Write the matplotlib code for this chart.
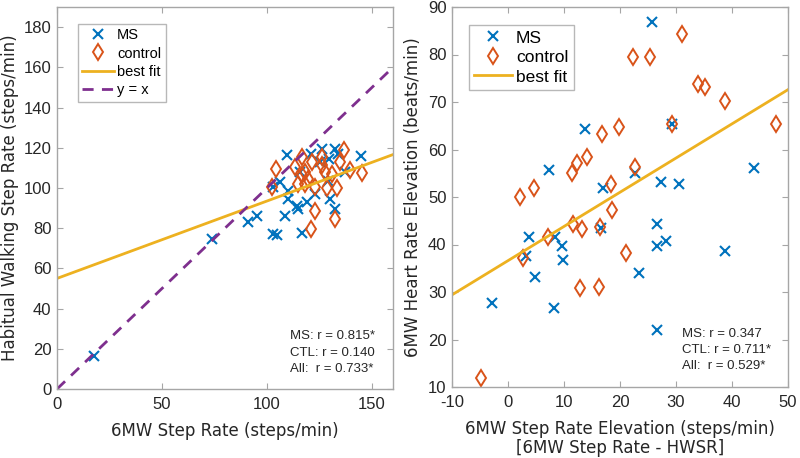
import numpy as np
import matplotlib
matplotlib.use('Agg')
import matplotlib.pyplot as plt

plt.rcParams['axes.unicode_minus'] = False

# colours (MATLAB default order)
c_ms = '#0072BD'
c_ctl = '#D95319'
c_fit = '#EDB120'
c_yx = '#7E2F8E'
c_axis = '#a6a6a6'

# ---------------- left panel data: 6MW step rate vs HWSR ----------------
ms_6mw = [109.4, 121, 126, 132.4, 133.6, 144.8, 129.5, 106.2, 103, 110.1,
          110.1, 114.1, 114.9, 118.9, 122.9, 130, 129.2, 132.4, 108.6, 95.1,
          91.1, 103, 104.6, 116.5, 115.7, 137, 73.7, 17.8, 125.2]
ms_hwsr = [116.2, 117, 119.5, 119.5, 117, 115.8, 114.5, 102.8, 100.3, 98.7,
           94.5, 91.2, 89.5, 92.8, 97, 94.5, 103.7, 89.5, 85.8, 86.2,
           83.2, 77, 76.5, 77.8, 107.8, 108, 74.5, 16.6, 112.8]
ctl_6mw = [104.1, 102.2, 116.5, 126, 136.8, 134.8, 139.5, 145.4, 113.3, 118.1,
           121.3, 126, 127.6, 130.8, 114.9, 119.7, 118.1, 122.9, 128.4, 133.2,
           122.9, 132.4, 121, 116.5]
ctl_hwsr = [109.2, 100.3, 115.3, 115.3, 118.7, 112.8, 108.7, 107.5, 110.3, 107.8,
            112.8, 111.2, 107.8, 107, 102, 104.5, 102, 100.3, 99.8, 99.8,
            88.7, 84.8, 79.8, 106.2]
fit1 = (0.385, 55.0)          # slope, intercept
stats1 = ['MS: r = 0.815*', 'CTL: r = 0.140', 'All:  r = 0.733*']

# ---------------- right panel data: step rate elevation vs HR elevation ----------------
ms_dsr = [25.8, 13.75, 29.2, 7.4, 22.7, 17.0, 27.3, 30.6, 43.9, 3.75,
          8.4, 9.6, 3.3, 9.9, 4.8, -2.9, 8.3, 16.55, 26.55, 26.55,
          28.2, 23.45, 26.55, 38.75]
ms_dhr = [86.9, 64.3, 65.4, 55.7, 55.1, 51.8, 53.2, 52.7, 56.2, 41.6,
          41.6, 39.7, 37.6, 36.7, 33.1, 27.6, 26.6, 43.4, 44.25, 39.7,
          40.7, 34.1, 22.0, 38.6]
ctl_dsr = [31.0, 22.4, 25.4, 33.9, 35.2, 38.75, 47.9, 29.3, 19.8, 16.8,
           14.05, 12.3, 11.5, 22.7, 4.6, 18.4, 2.1, 18.5, 11.55, 13.3,
           16.4, 7.2, 2.7, 21.0, 12.9, 16.25, -4.9]
ctl_dhr = [84.3, 79.4, 79.4, 73.8, 73.2, 70.3, 65.4, 65.4, 64.8, 63.3,
           58.4, 57.2, 55.0, 56.4, 51.8, 52.7, 50.1, 47.3, 44.3, 43.2,
           43.7, 41.6, 37.1, 38.3, 30.8, 31.1, 12.0]
fit2 = (0.72, 36.6)
stats2 = ['MS: r = 0.347', 'CTL: r = 0.711*', 'All:  r = 0.529*']

tick_font = 'Liberation Sans'
label_font = 'DejaVu Sans'

fig = plt.figure(figsize=(8, 4.58), dpi=100)
ax1 = fig.add_axes([57/800, 1-389/458, 336/800, 382/458])
ax2 = fig.add_axes([452/800, 1-387/458, 336/800, 380/458])


def style_axes(ax):
    for s in ax.spines.values():
        s.set_color(c_axis)
        s.set_linewidth(1.0)
    ax.tick_params(direction='in', top=True, right=True, length=4,
                   color=c_axis, labelsize=12, labelcolor='#262626')
    ax.tick_params(axis='x', pad=6)
    ax.tick_params(axis='y', pad=4)
    for lab in ax.get_xticklabels() + ax.get_yticklabels():
        lab.set_fontfamily(tick_font)


def scatter_pair(ax, xm, ym, xc, yc):
    ax.plot(xm, ym, 'x', color=c_ms, ms=7, mew=1.5, ls='none', label='MS')
    ax.plot(xc, yc, 'd', color=c_ctl, ms=8.5, mew=1.4, mfc='none', ls='none', label='control')


# left
scatter_pair(ax1, ms_6mw, ms_hwsr, ctl_6mw, ctl_hwsr)
ax1.set_xlim(0, 160)
ax1.set_ylim(0, 190)
xx = np.array(ax1.get_xlim())
ax1.plot(xx, fit1[1] + fit1[0]*xx, color=c_fit, lw=2, label='best fit')
ax1.plot([0, 160], [0, 160], '--', color=c_yx, lw=2, dashes=(4, 3), label='y = x')
ax1.set_xticks([0, 50, 100, 150])
ax1.set_yticks(np.arange(0, 181, 20))
style_axes(ax1)
ax1.set_xlabel('6MW Step Rate (steps/min)', fontsize=12, family=label_font, color='#262626', labelpad=7)
ax1.set_ylabel('Habitual Walking Step Rate (steps/min)', fontsize=12, family=label_font, color='#262626', labelpad=3)
leg1 = ax1.legend(loc='upper left', prop={'family': tick_font, 'size': 10.5},
                  frameon=True, fancybox=False, edgecolor='#a6a6a6', handlelength=2.2,
                  handletextpad=0.2, borderpad=0.3, labelspacing=0.3,
                  bbox_to_anchor=(0.04, 0.975))
leg1.get_frame().set_linewidth(1.0)
for i, s in enumerate(stats1):
    ax1.text(0.693, 0.138 - i*0.043, s, transform=ax1.transAxes, fontsize=9.5,
             family=tick_font, color='#262626', va='center')

# right
scatter_pair(ax2, ms_dsr, ms_dhr, ctl_dsr, ctl_dhr)
ax2.set_xlim(-10, 50)
ax2.set_ylim(10, 90)
xx = np.array(ax2.get_xlim())
ax2.plot(xx, fit2[1] + fit2[0]*xx, color=c_fit, lw=2, label='best fit')
ax2.set_xticks(np.arange(-10, 51, 10))
ax2.set_yticks(np.arange(10, 91, 10))
style_axes(ax2)
ax2.set_xlabel('6MW Step Rate Elevation (steps/min)\n[6MW Step Rate - HWSR]', fontsize=12,
               family=label_font, color='#262626', labelpad=7, linespacing=1.05)
ax2.set_ylabel('6MW Heart Rate Elevation (beats/min)', fontsize=12, family=label_font,
               color='#262626', labelpad=4)
leg2 = ax2.legend(loc='upper left', prop={'family': tick_font, 'size': 12.5},
                  frameon=True, fancybox=False, edgecolor='#a6a6a6', handlelength=2.2,
                  handletextpad=0.2, borderpad=0.3, labelspacing=0.25,
                  bbox_to_anchor=(0.025, 0.975))
leg2.get_frame().set_linewidth(1.0)
for i, s in enumerate(stats2):
    ax2.text(0.685, 0.14 - i*0.043, s, transform=ax2.transAxes, fontsize=9.5,
             family=tick_font, color='#262626', va='center')

fig.savefig('out.png', dpi=100)
